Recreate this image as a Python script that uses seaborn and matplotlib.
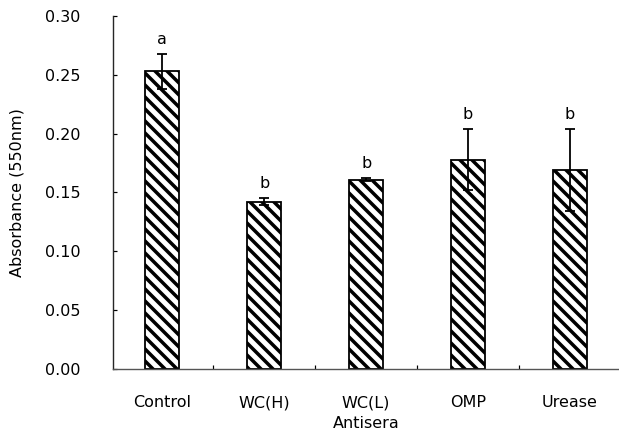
import numpy as np
import pandas as pd
import matplotlib
matplotlib.use("Agg")
import matplotlib.pyplot as plt
import seaborn as sns

# --- data ---
antisera = ["Control", "WC(H)", "WC(L)", "OMP", "Urease"]
absorbance = [0.253, 0.142, 0.161, 0.178, 0.169]
sd = [0.015, 0.003, 0.001, 0.026, 0.035]
letters = ["a", "b", "b", "b", "b"]
yticks = [0.00, 0.05, 0.10, 0.15, 0.20, 0.25, 0.30]

sns.set_style("ticks")
plt.rcParams["font.family"] = ["DejaVu Sans"]
plt.rcParams["text.color"] = "black"
plt.rcParams["axes.labelcolor"] = "black"
plt.rcParams["xtick.color"] = "black"
plt.rcParams["ytick.color"] = "black"
plt.rcParams["hatch.linewidth"] = 3.5
plt.rcParams["hatch.color"] = "black"

df = pd.DataFrame({"Antisera": antisera, "Absorbance": absorbance})

# dpi 72 so the hatch unit (72 px) gives stripes ~12 px apart
fig = plt.figure(figsize=(619 / 72, 443 / 72), dpi=72)
ax = fig.add_axes([0.183, 0.167, 0.817, 0.797])

sns.barplot(data=df, x="Antisera", y="Absorbance", color="white",
            edgecolor="black", linewidth=1.8, width=0.33, hatch="\\\\",
            errorbar=None, ax=ax)
for p in ax.patches:
    p.set_hatch("\\\\")

x = np.arange(len(antisera))
ax.errorbar(x, absorbance, yerr=sd, fmt="none", ecolor="black",
            elinewidth=1.8, capsize=5, capthick=1.8)

for xi, v, e, lab in zip(x, absorbance, sd, letters):
    ax.text(xi, v + e + 0.006, lab, ha="center", va="bottom", fontsize=16)

ax.set_xlim(-0.48, 4.48)
ax.set_ylim(0, 0.30)
ax.set_yticks(yticks)
ax.set_yticklabels([f"{t:.2f}" for t in yticks])
ax.set_xticks(x)
ax.set_xticklabels(antisera)
ax.set_xticks(x[:-1] + 0.5, minor=True)

ax.tick_params(axis="y", direction="in", length=4, width=1.2, pad=33, labelsize=16)
ax.tick_params(axis="x", which="major", length=0, pad=26, labelsize=16)
ax.tick_params(axis="x", which="minor", direction="in", length=4, width=1.2)

ax.set_xlabel("Antisera", fontsize=16, labelpad=6)
ax.set_ylabel("Absorbance (550nm)", fontsize=16, labelpad=20)

sns.despine(ax=ax)
ax.spines["left"].set_linewidth(1.4)
ax.spines["bottom"].set_linewidth(1.4)
ax.spines["bottom"].set_color("#555555")

fig.savefig("out.png", dpi=72)
